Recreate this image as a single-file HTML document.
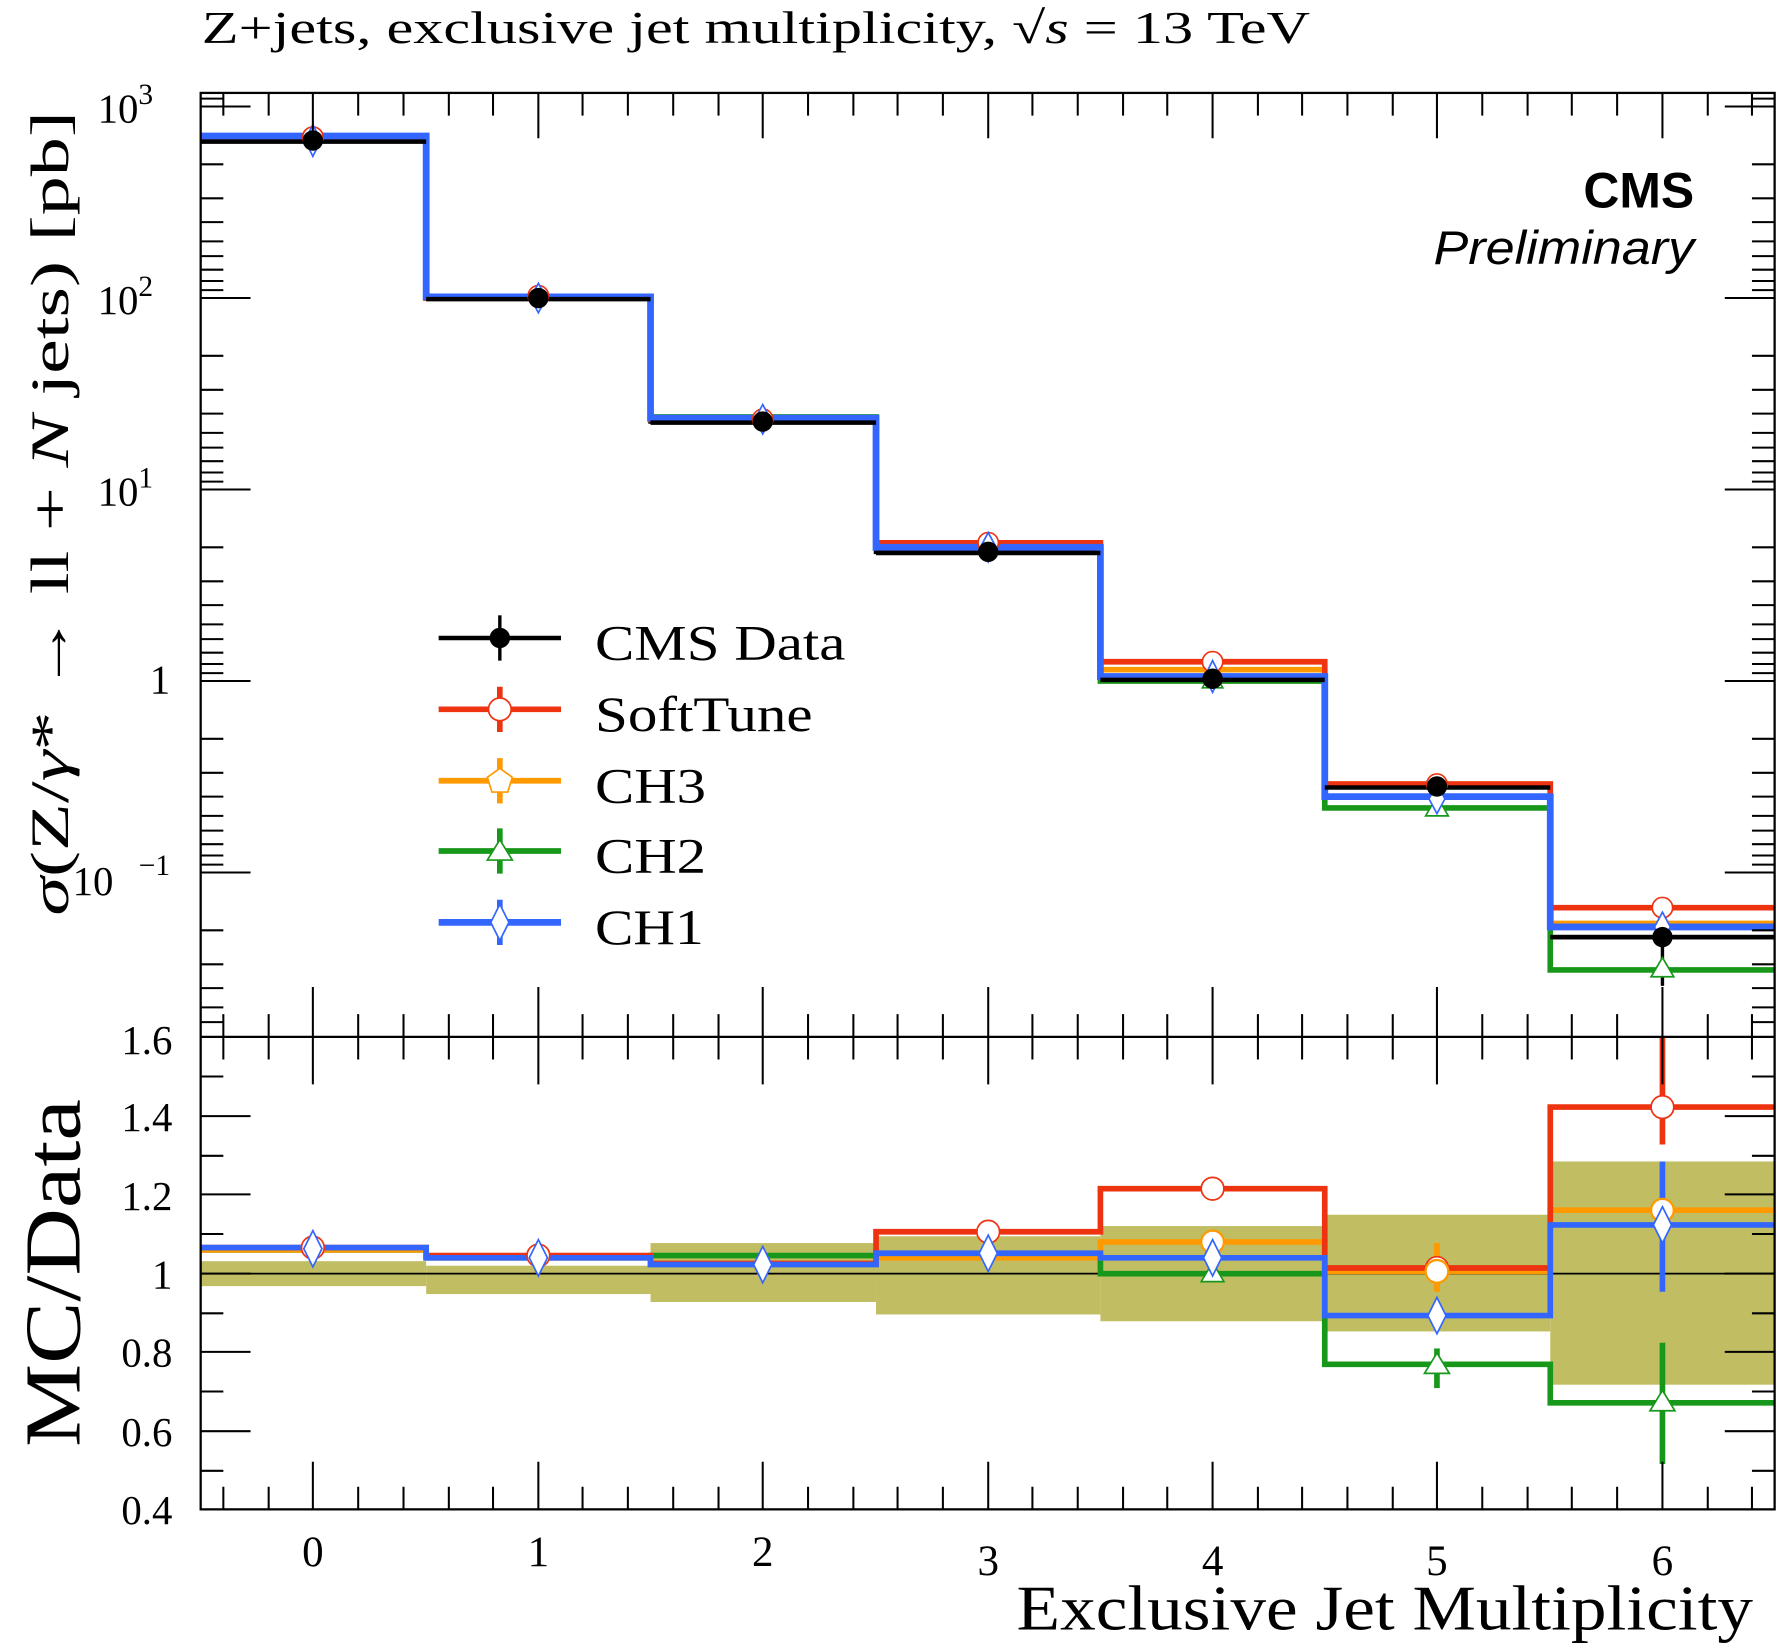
<!DOCTYPE html>
<html><head><style>html,body{margin:0;padding:0;background:#fff}svg{display:block}</style></head>
<body>
<svg width="1777" height="1651" viewBox="0 0 1568 1457" xmlns="http://www.w3.org/2000/svg" font-family="Liberation Serif, serif">
<rect width="1568" height="1457" fill="#fff"/>
<g fill="#c1bd62">
<rect x="177" y="1113" width="199" height="22"/>
<rect x="376" y="1117" width="198" height="25"/>
<rect x="574" y="1097" width="199" height="52"/>
<rect x="773" y="1091" width="198" height="69"/>
<rect x="971" y="1082" width="198" height="84"/>
<rect x="1169" y="1072" width="199" height="103"/>
<rect x="1368" y="1025" width="198" height="197"/>
</g>
<line x1="177" y1="1124" x2="1566" y2="1124" stroke="#000" stroke-width="1.5"/>
<g fill="none" stroke-width="5">
<path stroke="#000" stroke-width="4" d="M177 124H376V263H574V372H773V487H971V599H1169V694H1368V827H1566"/>
<path stroke="#18981a" d="M177 121H376V263H574V368H773V483H971V601H1169V713H1368V856H1566"/>
<path stroke="#ff9900" d="M177 121H376V263H574V370H773V482H971V591H1169V692H1368V815H1566"/>
<path stroke="#ee3311" d="M177 121H376V263H574V370H773V479H971V584H1169V692H1368V801H1566"/>
<path stroke="#3366ff" stroke-width="6" d="M177 120H376V262H574V369H773V483H971V597H1169V703H1368V818H1566"/>
<path stroke="#000" stroke-width="4" d="M177 125H376M376 264H574M574 373H773M773 488H971M971 600H1169M1169 695H1368M1368 827H1566"/>
<path stroke="#18981a" d="M177 1103H376V1110H574V1108H773V1108H971V1124H1169V1204H1368V1238H1566"/>
<path stroke="#ff9900" d="M177 1103H376V1110H574V1115H773V1110H971V1096H1169V1122H1368V1068H1566"/>
<path stroke="#ee3311" d="M177 1101H376V1108H574V1115H773V1087H971V1049H1169V1119H1368V977H1566"/>
<path stroke="#3366ff" d="M177 1101H376V1110H574V1116H773V1106H971V1110H1169V1161H1368V1081H1566"/>
</g>
<g stroke-width="5">
<line x1="1467" y1="805" x2="1467" y2="870" stroke="#000" stroke-width="3"/>
<line x1="1467" y1="915" x2="1467" y2="1010" stroke="#ee3311"/>
<line x1="1467" y1="1025" x2="1467" y2="1140" stroke="#3366ff"/>
<line x1="1467" y1="1185" x2="1467" y2="1292" stroke="#18981a"/>
<line x1="1268" y1="1190" x2="1268" y2="1225" stroke="#18981a"/>
<line x1="1268" y1="1097" x2="1268" y2="1140" stroke="#ff9900"/>
</g>
<g>
<g fill="#fff" stroke="#ee3311" stroke-width="1.5">
<circle cx="276" cy="121" r="9"/><circle cx="475" cy="261" r="9"/><circle cx="673" cy="370" r="9"/><circle cx="872" cy="479" r="9"/><circle cx="1070" cy="584" r="9"/><circle cx="1268" cy="692" r="9"/><circle cx="1467" cy="801" r="9"/>
<circle cx="276" cy="1101" r="10"/><circle cx="475" cy="1108" r="10"/><circle cx="872" cy="1087" r="10"/><circle cx="1070" cy="1049" r="10"/><circle cx="1268" cy="1119" r="10"/><circle cx="1467" cy="977" r="10"/>
</g>
<g fill="#fff" stroke="#ff9900" stroke-width="2">
<circle cx="1070" cy="1096" r="10"/><circle cx="1268" cy="1122" r="10"/><circle cx="1467" cy="1068" r="10"/>
</g>
<g fill="#fff" stroke="#18981a" stroke-width="1.5">
<path d="M1070 591l9 16h-18z"/><path d="M1268 703l10 17h-20z"/><path d="M1467 845l10 17h-20z"/>
<path d="M1070 1114l10 17h-20z"/><path d="M1268 1194l11 18h-22z"/><path d="M1467 1227l11 18h-22z"/>
</g>
<g fill="#fff" stroke="#3366ff" stroke-width="1.5">
<path d="M276 110l7 14-7 14-7-14z"/><path d="M475 250l7 13-7 13-7-13z"/><path d="M673 357l7 13-7 13-7-13z"/><path d="M872 470l7 13-7 13-7-13z"/><path d="M1070 583l7 14-7 14-7-14z"/><path d="M1268 692l7 13-7 13-7-13z"/><path d="M1467 805l7 13-7 13-7-13z"/>
<path d="M276 1086l8 16-8 16-8-16z"/><path d="M475 1094l8 16-8 16-8-16z"/><path d="M673 1100l8 16-8 16-8-16z"/><path d="M872 1090l8 16-8 16-8-16z"/><path d="M1070 1094l8 16-8 16-8-16z"/><path d="M1268 1145l8 16-8 16-8-16z"/><path d="M1467 1065l8 16-8 16-8-16z"/>
</g>
<g fill="#000">
<circle cx="276" cy="124" r="9"/><circle cx="475" cy="263" r="9"/><circle cx="673" cy="372" r="9"/><circle cx="872" cy="487" r="9"/><circle cx="1070" cy="599" r="9"/><circle cx="1268" cy="694" r="9"/><circle cx="1467" cy="827" r="9"/>
</g>
</g>
<g fill="none" stroke="#000" stroke-width="2">
<rect x="177" y="82" width="1389" height="1250"/>
<line x1="177" y1="915" x2="1566" y2="915"/>
</g>
<g stroke="#000" stroke-width="1.8">
<path d="M276 82v40M475 82v40M673 82v40M872 82v40M1070 82v40M1268 82v40M1467 82v40
M276 915v-44M475 915v-44M673 915v-44M872 915v-44M1070 915v-44M1268 915v-44M1467 915v-44
M276 915v42M475 915v42M673 915v42M872 915v42M1070 915v42M1268 915v42M1467 915v42
M276 1332v-42M475 1332v-42M673 1332v-42M872 1332v-42M1070 1332v-42M1268 1332v-42M1467 1332v-42"/>
<path d="M197 82v20M237 82v20M316 82v20M356 82v20M396 82v20M435 82v20M514 82v20M554 82v20M594 82v20M634 82v20M713 82v20M753 82v20M792 82v20M832 82v20M911 82v20M951 82v20M991 82v20M1030 82v20M1110 82v20M1149 82v20M1189 82v20M1229 82v20M1308 82v20M1348 82v20M1387 82v20M1427 82v20M1507 82v20M1546 82v20
M197 915v-20M237 915v-20M316 915v-20M356 915v-20M396 915v-20M435 915v-20M514 915v-20M554 915v-20M594 915v-20M634 915v-20M713 915v-20M753 915v-20M792 915v-20M832 915v-20M911 915v-20M951 915v-20M991 915v-20M1030 915v-20M1110 915v-20M1149 915v-20M1189 915v-20M1229 915v-20M1308 915v-20M1348 915v-20M1387 915v-20M1427 915v-20M1507 915v-20M1546 915v-20
M197 915v20M237 915v20M316 915v20M356 915v20M396 915v20M435 915v20M514 915v20M554 915v20M594 915v20M634 915v20M713 915v20M753 915v20M792 915v20M832 915v20M911 915v20M951 915v20M991 915v20M1030 915v20M1110 915v20M1149 915v20M1189 915v20M1229 915v20M1308 915v20M1348 915v20M1387 915v20M1427 915v20M1507 915v20M1546 915v20
M197 1332v-20M237 1332v-20M316 1332v-20M356 1332v-20M396 1332v-20M435 1332v-20M514 1332v-20M554 1332v-20M594 1332v-20M634 1332v-20M713 1332v-20M753 1332v-20M792 1332v-20M832 1332v-20M911 1332v-20M951 1332v-20M991 1332v-20M1030 1332v-20M1110 1332v-20M1149 1332v-20M1189 1332v-20M1229 1332v-20M1308 1332v-20M1348 1332v-20M1387 1332v-20M1427 1332v-20M1507 1332v-20M1546 1332v-20"/>
<path d="M177 94h44M177 263h44M177 432h44M177 601h44M177 770h44M1566 94h-44M1566 263h-44M1566 432h-44M1566 601h-44M1566 770h-44"/>
<path d="M177 145h20M177 175h20M177 196h20M177 213h20M177 226h20M177 238h20M177 248h20M177 256h20
M177 314h20M177 344h20M177 365h20M177 382h20M177 395h20M177 407h20M177 417h20M177 425h20
M177 483h20M177 513h20M177 534h20M177 551h20M177 564h20M177 576h20M177 586h20M177 594h20
M177 652h20M177 682h20M177 703h20M177 720h20M177 733h20M177 745h20M177 755h20M177 763h20
M177 821h20M177 851h20M177 872h20M177 889h20M177 902h20M177 87h20
M1566 145h-20M1566 175h-20M1566 196h-20M1566 213h-20M1566 226h-20M1566 238h-20M1566 248h-20M1566 256h-20
M1566 314h-20M1566 344h-20M1566 365h-20M1566 382h-20M1566 395h-20M1566 407h-20M1566 417h-20M1566 425h-20
M1566 483h-20M1566 513h-20M1566 534h-20M1566 551h-20M1566 564h-20M1566 576h-20M1566 586h-20M1566 594h-20
M1566 652h-20M1566 682h-20M1566 703h-20M1566 720h-20M1566 733h-20M1566 745h-20M1566 755h-20M1566 763h-20
M1566 821h-20M1566 851h-20M1566 872h-20M1566 889h-20M1566 902h-20M1566 87h-20"/>
<path d="M177 985h44M177 1054h44M177 1124h44M177 1193h44M177 1263h44M1566 985h-44M1566 1054h-44M1566 1124h-44M1566 1193h-44M1566 1263h-44
M177 950h20M177 1020h20M177 1089h20M177 1159h20M177 1228h20M177 1298h20M1566 950h-20M1566 1020h-20M1566 1089h-20M1566 1159h-20M1566 1228h-20M1566 1298h-20"/>
</g>
<g stroke-width="5">
<line x1="387" y1="563" x2="495" y2="563" stroke="#000" stroke-width="4"/>
<line x1="441" y1="543" x2="441" y2="583" stroke="#000" stroke-width="3"/>
<circle cx="441" cy="563" r="9" fill="#000"/>
<line x1="387" y1="626" x2="495" y2="626" stroke="#ee3311"/>
<line x1="441" y1="606" x2="441" y2="646" stroke="#ee3311"/>
<circle cx="441" cy="626" r="10" fill="#fff" stroke="#ee3311" stroke-width="1.5"/>
<line x1="387" y1="689" x2="495" y2="689" stroke="#ff9900"/>
<line x1="441" y1="669" x2="441" y2="709" stroke="#ff9900"/>
<path d="M441 678l11 8-4 13h-14l-4-13z" fill="#fff" stroke="#ff9900" stroke-width="1.5"/>
<line x1="387" y1="751" x2="495" y2="751" stroke="#18981a"/>
<line x1="441" y1="731" x2="441" y2="771" stroke="#18981a"/>
<path d="M441 741l11 18h-22z" fill="#fff" stroke="#18981a" stroke-width="1.5"/>
<line x1="387" y1="814" x2="495" y2="814" stroke="#3366ff" stroke-width="6"/>
<line x1="441" y1="794" x2="441" y2="834" stroke="#3366ff"/>
<path d="M441 798l8 16-8 16-8-16z" fill="#fff" stroke="#3366ff" stroke-width="1.5"/>
</g>
<g font-size="44" fill="#000">
<text x="525" y="582" textLength="221" lengthAdjust="spacingAndGlyphs">CMS Data</text>
<text x="525" y="645" textLength="192" lengthAdjust="spacingAndGlyphs">SoftTune</text>
<text x="525" y="708" textLength="98" lengthAdjust="spacingAndGlyphs">CH3</text>
<text x="525" y="770" textLength="98" lengthAdjust="spacingAndGlyphs">CH2</text>
<text x="525" y="833" textLength="96" lengthAdjust="spacingAndGlyphs">CH1</text>
</g>
<text x="178" y="38" font-size="40" textLength="978" lengthAdjust="spacingAndGlyphs">Z+jets, exclusive jet multiplicity, <tspan font-style="italic">√s</tspan> = 13 TeV</text>
<text x="1495" y="183" font-size="44" font-weight="bold" font-family="Liberation Sans, sans-serif" text-anchor="end">CMS</text>
<text x="1495" y="233" font-size="42" font-style="italic" font-family="Liberation Sans, sans-serif" text-anchor="end" textLength="230" lengthAdjust="spacingAndGlyphs">Preliminary</text>
<g font-size="36" text-anchor="end">
<text x="135" y="108">10<tspan dy="-16" font-size="26">3</tspan></text>
<text x="135" y="277">10<tspan dy="-16" font-size="26">2</tspan></text>
<text x="135" y="446">10<tspan dy="-16" font-size="26">1</tspan></text>
<text x="150" y="612">1</text>
<text x="100" y="790">10</text><text x="150" y="772" font-size="26">−1</text>
<text x="152" y="930">1.6</text>
<text x="152" y="998">1.4</text>
<text x="152" y="1068">1.2</text>
<text x="152" y="1137">1</text>
<text x="152" y="1206">0.8</text>
<text x="152" y="1276">0.6</text>
<text x="152" y="1345">0.4</text>
</g>
<g font-size="38" text-anchor="middle">
<text x="276" y="1382">0</text><text x="475" y="1382">1</text><text x="673" y="1382">2</text><text x="872" y="1390">3</text><text x="1070" y="1390">4</text><text x="1268" y="1390">5</text><text x="1467" y="1390">6</text>
</g>
<text x="897" y="1438" font-size="56" textLength="650" lengthAdjust="spacingAndGlyphs">Exclusive Jet Multiplicity</text>
<text transform="translate(60,808) rotate(-90)" font-size="48" textLength="710" lengthAdjust="spacingAndGlyphs"><tspan font-style="italic">σ</tspan>(Z/<tspan font-style="italic">γ</tspan>* → ll + <tspan font-style="italic">N</tspan> jets) [pb]</text>
<text transform="translate(70,1277) rotate(-90)" font-size="70" textLength="307" lengthAdjust="spacingAndGlyphs">MC/Data</text>
</svg>
</body></html>
